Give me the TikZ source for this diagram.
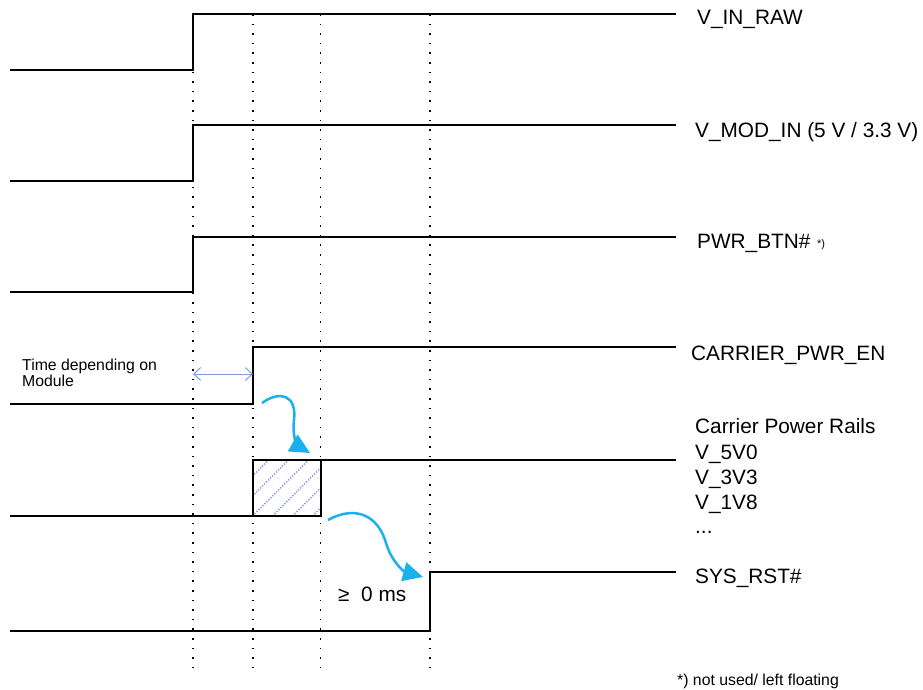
\documentclass[tikz,border=0pt]{standalone}
\usepackage{fontspec}
\setmainfont{Liberation Sans}
\usetikzlibrary{arrows.meta}
\definecolor{flowblue}{HTML}{1AB0EE}
\definecolor{hatchblue}{HTML}{8FA3D6}
\definecolor{spanblue}{HTML}{7B9BD8}
\tikzset{
  sig/.style={line width=2pt, line join=miter, black},
  guide/.style={line width=1.6pt, dash pattern=on 1.6pt off 8pt, black},
  lbl/.style={anchor=base west, inner sep=0pt, font=\fontsize{20.8}{25}\selectfont},
  small/.style={anchor=base west, inner sep=0pt, font=\fontsize{15.8}{19}\selectfont},
  flow/.style={line width=2.5pt, flowblue, -{Triangle[length=20pt,width=19pt]}},
  span/.style={line width=1pt, spanblue, {Straight Barb[length=7pt,width=13pt]}-{Straight Barb[length=7pt,width=13pt]}},
  hatch/.style={line width=1.5pt, hatchblue, dash pattern=on 1.4pt off 1.4pt}
}
\begin{document}
\begin{tikzpicture}[x=1pt,y=-1pt]
\useasboundingbox (0,0) rectangle (923,690);
% guide dotted lines
\foreach \gx/\gn in {193/ga,253/gb,320.5/gc,430/gd}{
  \coordinate (\gn top) at (\gx,14);
  \coordinate (\gn bot) at (\gx,667);
  \draw[guide] (\gn top) -- (\gn bot);
}
% hatched box
\coordinate (boxsw) at (252.5,516);
\coordinate (boxne) at (320.5,460);
\begin{scope}
  \clip (boxsw) rectangle (boxne);
  \foreach \k in {-60,-40,...,80}{
    \draw[hatch] (252.5+\k,516) -- (252.5+\k+80,436);
  }
\end{scope}
% signals
\draw[sig] (10,70) -- (193,70) -- (193,14) -- (676,14);
\draw[sig] (10,181) -- (193,181) -- (193,125) -- (676,125);
\draw[sig] (10,292) -- (193,292) -- (193,237) -- (676,237);
\draw[sig] (10,404) -- (253,404) -- (253,347) -- (676,347);
\draw[sig] (10,516) -- (320.5,516) -- (320.5,460) -- (252.5,460) -- (252.5,516);
\draw[sig] (320.5,460) -- (676,460);
\draw[sig] (10,631) -- (430,631) -- (430,572) -- (676,572);
% labels
\node[lbl] (l1) at (697,25) {V\_IN\_RAW};
\node[lbl] (l2) at (695,137) {V\_MOD\_IN (5 V / 3.3 V)};
\node[lbl] (l3) at (697,248) {PWR\_BTN\#};
\node[anchor=base west, inner sep=0pt, font=\fontsize{11}{13}\selectfont] (l3n) at (817,247) {*)};
\node[lbl] (l4) at (691,360) {CARRIER\_PWR\_EN};
\node[lbl] (l5) at (695,433) {Carrier Power Rails};
\node[lbl] (l5a) at (695,459) {V\_5V0};
\node[lbl] (l5b) at (695,484.5) {V\_3V3};
\node[lbl] (l5c) at (695,509.5) {V\_1V8};
\node[lbl] (l5d) at (695,533) {...};
\node[lbl] (l6) at (695,583) {SYS\_RST\#};
\node[small] (t1) at (22,370.5) {Time depending on};
\node[small] (t2) at (22,386.5) {Module};
\node[lbl] (ms) at (338,601.5) {≥\ \ 0 ms};
\node[small] (fn) at (677,685) {*) not used/ left floating};
% span arrow
\coordinate (sa) at (193,374);
\coordinate (sb) at (253,374);
\draw[span] (sa) -- (sb);
% flow arrows
\coordinate (f1s) at (262,403);
\coordinate (f1e) at (310,453);
\draw[flow] (f1s) .. controls (280,390) and (297,395) .. (294,420) .. controls (292,436) and (298,446) .. (f1e);
\coordinate (f2s) at (328,520);
\coordinate (f2e) at (423,577);
\draw[flow] (f2s) .. controls (355,505) and (378,515) .. (386,543) .. controls (392,563) and (405,572) .. (f2e);
\end{tikzpicture}
\end{document}
